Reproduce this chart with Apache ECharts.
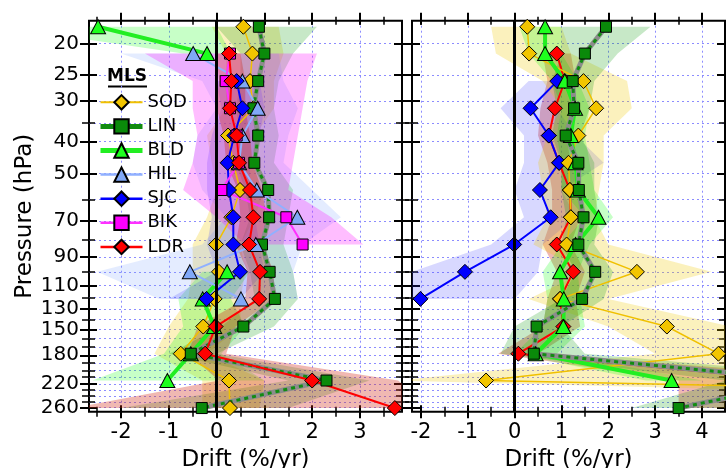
<!DOCTYPE html>
<html><head><meta charset="utf-8">
<script src="https://cdn.jsdelivr.net/npm/echarts@6/dist/echarts.min.js"></script>
<style>html,body{margin:0;padding:0;background:#fff}#c{width:726px;height:468px}</style>
</head><body><div id="c"></div>
<script>
// ---------- data ----------
const PRESSURE = [17.8, 21.5, 26.1, 31.6, 38.3, 46.4, 56.2, 68.1, 82.5, 100, 121, 147, 178, 215, 261];
const Y_TICK_LABELS = [20, 25, 30, 40, 50, 70, 90, 110, 130, 150, 180, 220, 260];
const Y_MINOR_TICKS = [35, 60, 80, 100, 120, 140, 160, 170, 190, 200, 210, 230, 240, 250];
const X_TICKS_L = [-2, -1, 0, 1, 2, 3];
const X_HALF_L = [-2.5, -2, -1.5, -1, -0.5, 0, 0.5, 1, 1.5, 2, 2.5, 3, 3.5];
const X_TICKS_R = [-2, -1, 0, 1, 2, 3, 4];
const X_HALF_R = [-2, -1.5, -1, -0.5, 0, 0.5, 1, 1.5, 2, 2.5, 3, 3.5, 4, 4.5];
const STATIONS = ['SOD', 'LIN', 'BLD', 'HIL', 'SJC', 'BIK', 'LDR'];

// left panel
const SOD_L    = [0.56, 0.75, 0.70, 0.77, 0.24, 0.35, 0.49, 0.31, -0.01, 0.05, -0.04, -0.28, -0.75, 0.26, 0.28];
const SOD_L_LO = [-0.1, 0.2, 0.2, 0.2, -0.2, -0.1, 0.0, -0.2, -0.5, -0.5, -0.6, -1.0, -1.3, -0.3, -0.3];
const SOD_L_HI = [1.3, 1.4, 1.2, 1.2, 0.8, 0.8, 1.0, 0.8, 0.5, 0.6, 0.5, 0.5, -0.2, 1.0, 0.9];
const LIN_L    = [0.885, 1.0, 0.87, 0.77, 0.87, 0.79, 1.08, 1.10, 0.95, 1.11, 1.22, 0.56, -0.54, 2.30, -0.31];
const LIN_L_LO = [0.0, 0.5, 0.5, 0.4, 0.5, 0.4, 0.6, 0.7, 0.5, 0.7, 0.8, 0.1, -1.0, 1.5, -2.0];
const LIN_L_HI = [2.1, 1.6, 1.3, 1.2, 1.3, 1.2, 1.6, 1.5, 1.4, 1.6, 1.7, 1.2, 0.0, 3.2, 1.5];
const BLD_L    = [-2.48, -0.20, null, null, null, null, null, null, null, 0.22, -0.29, -0.05, -0.54, -1.03, null];
const BLD_L_LO = [-4.5, -0.7, null, null, null, null, null, null, null, -0.3, -0.8, -0.7, -1.1, -2.6, null];
const BLD_L_HI = [0.0, 0.3, null, null, null, null, null, null, null, 0.7, 0.3, 0.6, 0.1, 1.0, null];
const HIL_L    = [null, -0.49, 0.54, 0.86, 0.54, 0.47, 0.84, 1.69, 0.82, -0.56, 0.51, null, null, null, null];
const HIL_L_LO = [null, -2.0, -0.3, 0.0, -0.4, -0.5, -0.3, 0.2, -0.3, -2.5, -1.2, null, null, null, null];
const HIL_L_HI = [null, 1.3, 1.4, 1.7, 1.5, 1.4, 2.0, 2.6, 1.8, 1.6, 1.7, null, null, null, null];
const SJC_L    = [null, null, 0.42, 0.54, 0.37, 0.23, 0.26, 0.35, 0.35, 0.49, -0.21, null, null, null, null];
const SJC_L_LO = [null, null, 0.0, 0.1, -0.1, -0.2, -0.2, -0.1, -0.2, 0.0, -1.0, null, null, null, null];
const SJC_L_HI = [null, null, 0.9, 1.0, 0.9, 0.7, 0.7, 0.8, 0.9, 1.0, 0.5, null, null, null, null];
const BIK_L    = [null, 0.28, 0.19, 0.28, 0.42, 0.47, 0.10, 1.46, 1.80, null, null, null, null, null, null];
const BIK_L_LO = [null, -1.5, -0.5, -0.5, -0.4, -0.5, -0.7, 0.0, 0.6, null, null, null, null, null, null];
const BIK_L_HI = [null, 2.1, 1.9, 1.8, 1.7, 1.6, 1.5, 2.4, 3.07, null, null, null, null, null, null];
const LDR_L    = [null, 0.26, 0.31, 0.28, 0.42, 0.47, 0.70, 0.77, 0.68, 0.91, 0.89, -0.02, -0.24, 2.0, 3.73];
const LDR_L_LO = [null, 0.0, 0.05, 0.0, 0.15, 0.2, 0.45, 0.5, 0.4, 0.65, 0.6, -0.4, -0.6, 0.05, -3.0];
const LDR_L_HI = [null, 0.5, 0.6, 0.6, 0.7, 0.75, 0.95, 1.05, 0.95, 1.2, 1.2, 0.4, 0.2, 3.8, 4.5];

// right panel
const SOD_R    = [0.27, 0.31, 1.47, 1.74, 1.36, 1.15, 1.18, 1.20, 1.11, 2.61, 0.97, 3.25, 4.35, -0.61, 28];
const SOD_R_LO = [-0.5, -0.4, 0.6, 1.0, 0.7, 0.5, 0.6, 0.7, 0.4, 1.5, 0.3, 2.0, 3.0, -2.5, 20];
const SOD_R_HI = [1.0, 1.2, 2.4, 2.5, 1.9, 1.9, 1.8, 1.7, 2.0, 4.2, 2.0, 4.6, 6.0, 6.0, 36];
const LIN_R    = [1.95, 1.50, 1.24, 1.27, 1.09, 1.36, 1.37, 1.47, 1.36, 1.72, 1.44, 0.47, 0.41, 6.3, 3.50];
const LIN_R_LO = [1.0, 1.0, 0.8, 0.9, 0.8, 1.0, 1.0, 1.1, 1.0, 1.3, 1.0, 0.0, -0.3, 4.5, 2.5];
const LIN_R_HI = [2.9, 2.2, 1.7, 1.6, 1.4, 1.7, 1.7, 1.8, 1.7, 2.1, 1.9, 1.0, 1.5, 8.0, 5.0];
const BLD_R    = [0.65, 0.65, 1.07, 1.29, 1.20, 1.30, 1.35, 1.79, 1.30, 0.97, 1.05, 1.04, 0.45, 3.35, null];
const BLD_R_LO = [0.1, 0.3, 0.8, 1.0, 0.9, 1.0, 1.0, 1.5, 1.0, 0.6, 0.7, 0.6, 0.0, 2.8, null];
const BLD_R_HI = [1.0, 1.0, 1.35, 1.6, 1.5, 1.6, 1.7, 2.1, 1.6, 1.35, 1.4, 1.5, 0.9, 4.0, null];
const SJC_R    = [null, null, 0.91, 0.34, 0.73, 0.95, 0.54, 0.77, -0.01, -1.06, -2.01, null, null, null, null];
const SJC_R_LO = [null, null, 0.3, -0.3, 0.2, 0.2, 0.0, 0.2, -0.5, -2.2, -2.6, null, null, null, null];
const SJC_R_HI = [null, null, 1.0, 0.9, 1.3, 1.9, 1.0, 1.3, 0.6, 0.5, 0.0, null, null, null, null];
const LDR_R    = [null, 0.90, 1.07, 0.86, 0.73, 0.95, 1.18, 1.20, 0.90, 1.25, 0.97, 1.04, 0.08, 6.0, 6.0];
const LDR_R_LO = [null, 0.6, 0.7, 0.55, 0.5, 0.7, 0.8, 0.8, 0.6, 0.9, 0.7, 0.6, -0.35, 3.5, 3.5];
const LDR_R_HI = [null, 1.2, 1.3, 1.2, 1.1, 1.2, 1.4, 1.4, 1.2, 1.5, 1.3, 1.4, 0.5, 8, 8];

// ---------- styles ----------
const F = "'DejaVu Sans', sans-serif";
const GRID_LINE = {color: '#8c8cff', width: 1, type: [2, 3]};
const STYLE = {
  SOD: {symbol: 'diamond', size: 15, fill: '#f2c500', line: '#f0c000', width: 1.5, legendWidth: 2, band: 'rgba(240,200,0,0.26)'},
  LIN: {symbol: 'rect', size: 11, fill: '#0a8a0a', line: '#128c12', width: 3, legendWidth: 5, band: 'rgba(0,150,0,0.22)'},
  BLD: {symbol: 'triangle', size: [15, 14], fill: '#1eff1e', line: '#22ee22', width: 4, legendWidth: 5, band: 'rgba(0,255,0,0.22)'},
  HIL: {symbol: 'triangle', size: [15, 14], fill: '#80a8f8', line: '#90b0ff', width: 2, legendWidth: 2.5, band: 'rgba(120,160,255,0.2)'},
  SJC: {symbol: 'diamond', size: 15, fill: '#0000ff', line: '#0000ff', width: 2, legendWidth: 2.5, band: 'rgba(60,60,255,0.2)'},
  BIK: {symbol: 'rect', size: 11, fill: '#ff00ff', line: '#ff30ff', width: 2, legendWidth: 2.5, band: 'rgba(255,0,255,0.26)'},
  LDR: {symbol: 'diamond', size: 15, fill: '#ff0000', line: '#ff0000', width: 2, legendWidth: 2.5, band: 'rgba(210,40,20,0.33)'}
};

const LG = v => Math.log10(v);
const Y_MIN = 1.2319, Y_MAX = 2.4278;

function xAxesFor(g, min, max, ticks, halves) {
  const base = {gridIndex: g, type: 'value', min: min, max: max,
    axisLine: {show: false, onZero: false}, axisLabel: {show: false}, splitLine: {show: false}};
  return [
    Object.assign({}, base, {position: 'bottom', offset: -6.5,
      axisTick: {show: true, customValues: ticks, length: 13, lineStyle: {color: '#000', width: 2}},
      axisLabel: {show: true, customValues: ticks, margin: 17, fontSize: 21, fontFamily: F, color: '#000',
        formatter: v => String(Math.round(v))},
      splitLine: {show: true, lineStyle: GRID_LINE},
      name: 'Drift (%/yr)', nameLocation: 'middle', nameGap: 37,
      nameTextStyle: {fontSize: 23, fontFamily: F, color: '#000'}}),
    Object.assign({}, base, {position: 'bottom', offset: -5,
      axisTick: {show: true, customValues: halves, length: 10, lineStyle: {color: '#000', width: 1.5}}}),
    Object.assign({}, base, {position: 'top', offset: -4,
      axisTick: {show: true, customValues: ticks, length: 12, lineStyle: {color: '#000', width: 2}}}),
    Object.assign({}, base, {position: 'top', offset: -4,
      axisTick: {show: true, customValues: halves, length: 8, lineStyle: {color: '#000', width: 1.5}}})
  ];
}
function yAxesFor(g, labels) {
  const major = Y_TICK_LABELS.map(LG);
  const all = Y_TICK_LABELS.concat(Y_MINOR_TICKS).map(LG);
  const base = {gridIndex: g, type: 'value', min: Y_MIN, max: Y_MAX, inverse: true,
    axisLine: {show: false, onZero: false}, axisLabel: {show: false}, splitLine: {show: false}};
  const first = Object.assign({}, base, {position: 'left', offset: -8,
    axisTick: {show: true, customValues: major, length: 17, lineStyle: {color: '#000', width: 2}}});
  if (labels) {
    first.axisLabel = {show: true, customValues: major, margin: 18, fontSize: 20, fontFamily: F, color: '#000',
      formatter: v => String(Math.round(Math.pow(10, v)))};
    first.name = 'Pressure (hPa)';
    first.nameLocation = 'middle';
    first.nameGap = 60;
    first.nameRotate = 90;
    first.nameTextStyle = {fontSize: 23, fontFamily: F, color: '#000'};
  }
  return [
    first,
    Object.assign({}, base, {position: 'left', offset: -6,
      axisTick: {show: true, customValues: all, length: 13, lineStyle: {color: '#000', width: 1.5}},
      splitLine: {show: true, lineStyle: GRID_LINE}}),
    Object.assign({}, base, {position: 'right', offset: -8,
      axisTick: {show: true, customValues: major, length: 17, lineStyle: {color: '#000', width: 2}}}),
    Object.assign({}, base, {position: 'right', offset: -6,
      axisTick: {show: true, customValues: all, length: 13, lineStyle: {color: '#000', width: 1.5}}})
  ];
}

function bandSeries(name, g, lo, hi) {
  const color = STYLE[name].band;
  const rows = [];
  PRESSURE.forEach((p, i) => { if (lo[i] != null && hi[i] != null) rows.push([lo[i], hi[i], LG(p)]); });
  return {
    type: 'custom', name: name + ' band', xAxisIndex: g * 4, yAxisIndex: g * 4, silent: true, clip: true,
    data: rows, encode: {x: [0, 1], y: 2},
    renderItem: function (params, api) {
      if (params.dataIndex !== 0) return null;
      const children = [];
      let seg = [];
      const flush = () => {
        if (seg.length > 1) {
          const pts = seg.map(i => api.coord([lo[i], LG(PRESSURE[i])]))
            .concat(seg.slice().reverse().map(i => api.coord([hi[i], LG(PRESSURE[i])])));
          children.push({type: 'polygon', shape: {points: pts}, style: {fill: color, stroke: null}});
        }
        seg = [];
      };
      for (let i = 0; i < PRESSURE.length; i++) {
        if (lo[i] != null && hi[i] != null) seg.push(i); else flush();
      }
      flush();
      const cs = params.coordSys;
      return {type: 'group', children: children,
        clipPath: {type: 'rect', shape: {x: cs.x, y: cs.y, width: cs.width, height: cs.height}}};
    }
  };
}

function lineSeries(name, g, vals) {
  const s = STYLE[name];
  const data = PRESSURE.map((p, i) => [vals[i] == null ? '-' : vals[i], LG(p)]);
  const out = [];
  if (name === 'LIN') {
    out.push({type: 'line', name: 'LIN base', xAxisIndex: g * 4, yAxisIndex: g * 4, data: data,
      symbol: 'none', silent: true, lineStyle: {color: '#8c8c8c', width: 5}, emphasis: {disabled: true}});
  }
  out.push({
    type: 'line', name: name, xAxisIndex: g * 4, yAxisIndex: g * 4, data: data,
    symbol: s.symbol, symbolSize: s.size, showSymbol: true, showAllSymbol: true, silent: true,
    itemStyle: {color: s.fill, borderColor: '#000', borderWidth: 1},
    lineStyle: {color: s.line, width: s.width, type: name === 'LIN' ? [4, 4] : 'solid'},
    emphasis: {disabled: true}
  });
  return out;
}

function zeroLine(g) {
  return {type: 'line', name: 'zero', xAxisIndex: g * 4, yAxisIndex: g * 4, data: [[0, LG(100)]],
    symbol: 'none', lineStyle: {width: 0}, silent: true,
    markLine: {silent: true, symbol: 'none', label: {show: false}, animation: false,
      lineStyle: {color: '#000', width: 3, type: 'solid'}, data: [{xAxis: 0}]}};
}

const LEFT = {
  SOD: [SOD_L, SOD_L_LO, SOD_L_HI], BLD: [BLD_L, BLD_L_LO, BLD_L_HI], LIN: [LIN_L, LIN_L_LO, LIN_L_HI],
  HIL: [HIL_L, HIL_L_LO, HIL_L_HI], SJC: [SJC_L, SJC_L_LO, SJC_L_HI], BIK: [BIK_L, BIK_L_LO, BIK_L_HI],
  LDR: [LDR_L, LDR_L_LO, LDR_L_HI]
};
const RIGHT = {
  LDR: [LDR_R, LDR_R_LO, LDR_R_HI], SJC: [SJC_R, SJC_R_LO, SJC_R_HI], SOD: [SOD_R, SOD_R_LO, SOD_R_HI],
  BLD: [BLD_R, BLD_R_LO, BLD_R_HI], LIN: [LIN_R, LIN_R_LO, LIN_R_HI]
};
const ORDER_L = ['SOD', 'BLD', 'LIN', 'HIL', 'SJC', 'BIK', 'LDR'];
const ORDER_R = ['LDR', 'SJC', 'SOD', 'BLD', 'LIN'];

const series = [zeroLine(0), zeroLine(1)];
ORDER_L.forEach(n => { series.push(bandSeries(n, 0, LEFT[n][1], LEFT[n][2])); series.push(...lineSeries(n, 0, LEFT[n][0])); });
ORDER_R.forEach(n => { series.push(bandSeries(n, 1, RIGHT[n][1], RIGHT[n][2])); series.push(...lineSeries(n, 1, RIGHT[n][0])); });

const chart = echarts.init(document.getElementById('c'), null, {renderer: 'canvas'});
chart.setOption({
  animation: false,
  backgroundColor: '#fff',
  textStyle: {fontFamily: F},
  grid: [
    {left: 89, top: 20.7, width: 313, height: 391, show: true, borderColor: '#000', borderWidth: 2,
      backgroundColor: 'transparent', containLabel: false, outerBoundsMode: 'none'},
    {left: 412, top: 20.7, width: 313, height: 391, show: true, borderColor: '#000', borderWidth: 2,
      backgroundColor: 'transparent', containLabel: false, outerBoundsMode: 'none'}
  ],
  xAxis: xAxesFor(0, -2.67, 3.88, X_TICKS_L, X_HALF_L).concat(xAxesFor(1, -2.19, 4.49, X_TICKS_R, X_HALF_R)),
  yAxis: yAxesFor(0, true).concat(yAxesFor(1, false)),
  title: {text: 'MLS', left: 107, top: 68, padding: 0,
    textStyle: {fontFamily: F, fontSize: 17, fontWeight: 'bold', color: '#000'}},
  graphic: [{type: 'line', silent: true, shape: {x1: 108, y1: 86.5, x2: 147, y2: 86.5}, style: {stroke: '#000', lineWidth: 2}}],
  legend: {
    left: 98, top: 93.3, orient: 'vertical', itemWidth: 42, itemHeight: 18, itemGap: 6.1, padding: 0,
    selectedMode: false,
    textStyle: {fontSize: 18, fontFamily: F, color: '#000'},
    data: STATIONS.map(n => ({name: n,
      lineStyle: {type: 'solid', width: STYLE[n].legendWidth, color: n === 'LIN' ? '#128c12' : STYLE[n].line}}))
  },
  series: series
});
</script>
</body></html>
